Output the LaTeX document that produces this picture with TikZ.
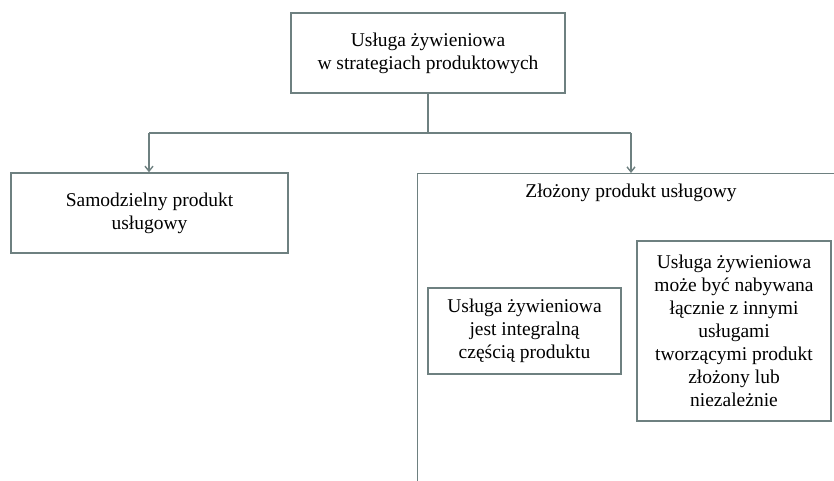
\documentclass[tikz,border=0pt]{standalone}
\usepackage{fontspec}
\setmainfont{Liberation Serif}
\usetikzlibrary{arrows.meta}
\definecolor{ln}{RGB}{110,128,128}
\begin{document}
\begin{tikzpicture}[x=1pt,y=-1pt,
  txt/.style={align=center, inner sep=0pt, font=\fontsize{19.5}{23}\selectfont},
  box/.style={txt, draw=ln, line width=1.4pt},
  conn/.style={draw=ln, line width=1.4pt},
  arr/.style={conn, -{Straight Barb[length=5pt,width=8pt]}}]
\clip (0,0) rectangle (834,480);
\fill[white] (0,0) rectangle (834,480);
\node[box, minimum width=274pt, minimum height=80pt] (top) at (428,53)
  {Usługa żywieniowa\\w strategiach produktowych};
\node[box, minimum width=277pt, minimum height=80pt] (left) at (149.5,213)
  {Samodzielny produkt\\usługowy};
\node[box, minimum width=430pt, minimum height=330pt, anchor=north west] (big) at (417,173) {};
\node[txt] (title) at (631,193) {Złożony produkt usługowy};
\node[box, minimum width=193pt, minimum height=86pt] (s1) at (524.5,331)
  {Usługa żywieniowa\\jest integralną\\częścią produktu};
\node[box, minimum width=194pt, minimum height=180pt] (s2) at (734,331)
  {Usługa żywieniowa\\może być nabywana\\łącznie z innymi\\usługami\\tworzącymi produkt\\złożony lub\\niezależnie};
\coordinate (mid) at (428,133);
\coordinate (lj) at (149,133);
\coordinate (rj) at (631,133);
\draw[conn] (top.south) -- (mid);
\draw[conn] (lj) -- (rj);
\draw[arr] (lj) -- (lj |- left.north);
\draw[arr] (rj) -- (rj |- big.north);
\end{tikzpicture}
\end{document}
